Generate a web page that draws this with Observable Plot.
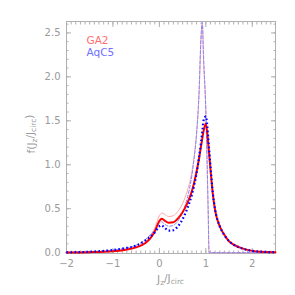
<!DOCTYPE html>
<html>
<head>
<meta charset="utf-8">
<script src="https://cdn.jsdelivr.net/npm/d3@7"></script>
<script src="https://cdn.jsdelivr.net/npm/@observablehq/plot@0.6"></script>
<style>
  html, body { margin: 0; padding: 0; background: #fff; }
  svg { display: block; }
</style>
</head>
<body>
<div id="chart"></div>
<script>
// J_z / J_circ grid
const jz = [-2, -1.5, -1, -0.75, -0.5, -0.3, -0.2, -0.1, 0, 0.05, 0.1, 0.2, 0.3, 0.4, 0.5, 0.6, 0.7, 0.75, 0.8, 0.85, 0.9, 0.925, 0.95, 1.0, 1.05, 1.07, 1.1, 1.15, 1.2, 1.3, 1.4, 1.5, 1.6, 1.8, 2.0, 2.2, 2.5];

// GA2 (thick red solid)
const ga2 = [0.002, 0.005, 0.015, 0.03, 0.06, 0.11, 0.16, 0.24, 0.36, 0.385, 0.37, 0.34, 0.345, 0.39, 0.46, 0.56, 0.7, 0.8, 0.92, 1.06, 1.22, 1.3, 1.38, 1.47, 1.25, 1.13, 0.95, 0.67, 0.48, 0.3, 0.2, 0.13, 0.09, 0.045, 0.02, 0.01, 0.005];
// AqC5 (thick blue dotted)
const aqc5 = [0.003, 0.01, 0.03, 0.05, 0.08, 0.14, 0.18, 0.23, 0.3, 0.31, 0.29, 0.25, 0.255, 0.3, 0.38, 0.5, 0.66, 0.77, 0.9, 1.07, 1.27, 1.38, 1.5, 1.55, 1.32, 1.18, 0.98, 0.68, 0.49, 0.3, 0.2, 0.13, 0.09, 0.045, 0.02, 0.01, 0.005];
// GA2 thin (light red solid)
const ga2Thin = [0.002, 0.006, 0.02, 0.035, 0.07, 0.13, 0.19, 0.28, 0.42, 0.45, 0.44, 0.41, 0.42, 0.47, 0.56, 0.7, 0.92, 1.1, 1.35, 1.75, 2.45, 2.6, 2.2, 1.6, 0.45, 0, 0, 0, 0, 0, 0, 0, 0, 0, 0, 0, 0];
// AqC5 thin (light blue dashed)
const aqc5Thin = [0.003, 0.01, 0.03, 0.05, 0.085, 0.15, 0.2, 0.26, 0.34, 0.35, 0.33, 0.3, 0.31, 0.36, 0.46, 0.62, 0.88, 1.08, 1.35, 1.78, 2.5, 2.62, 2.25, 1.62, 0.5, 0, 0, 0, 0, 0, 0, 0, 0, 0, 0, 0, 0];

const legendNames = ["GA2", "AqC5"];
const legendColors = ["#ff6f6f", "#7070ff"];

const xMinor = d3.range(-20, 26).map(i => i / 10);
const xMajor = [-2, -1, 0, 1, 2];
const yMinor = d3.range(0, 27).map(i => i / 10);
const yMajor = [0, 0.5, 1.0, 1.5, 2.0, 2.5];

const toRows = ys => jz.map((x, i) => ({x, y: ys[i]}));

const axisColor = "#b0b0b0";
const font = "DejaVu Sans, sans-serif";

const plot = Plot.plot({
  width: 295,
  height: 295,
  marginLeft: 66,
  marginRight: 20,
  marginTop: 21,
  marginBottom: 42,
  style: {fontFamily: font, fontSize: "10px", color: "#9a9a9a", background: "#fff"},
  x: {domain: [-2, 2.5], label: null},
  y: {domain: [-0.01, 2.63], label: null},
  marks: [
    Plot.frame({stroke: axisColor}),
    // minor ticks (inward) on all four sides
    Plot.axisX(xMinor, {anchor: "bottom", tickSize: -2.5, tickFormat: () => "", stroke: axisColor, label: null}),
    Plot.axisX(xMinor, {anchor: "top", tickSize: -2.5, tickFormat: () => "", stroke: axisColor, label: null}),
    Plot.axisY(yMinor, {anchor: "left", tickSize: -2.5, tickFormat: () => "", stroke: axisColor, label: null}),
    Plot.axisY(yMinor, {anchor: "right", tickSize: -2.5, tickFormat: () => "", stroke: axisColor, label: null}),
    // major ticks
    Plot.axisX(xMajor, {anchor: "bottom", tickSize: -5, tickFormat: () => "", stroke: axisColor, label: null}),
    Plot.axisX(xMajor, {anchor: "top", tickSize: -5, tickFormat: () => "", stroke: axisColor, label: null}),
    Plot.axisY(yMajor, {anchor: "left", tickSize: -5, tickFormat: () => "", stroke: axisColor, label: null}),
    Plot.axisY(yMajor, {anchor: "right", tickSize: -5, tickFormat: () => "", stroke: axisColor, label: null}),
    // tick labels
    Plot.axisX(xMajor, {anchor: "bottom", tickSize: 0, tickPadding: 6, tickFormat: d => d < 0 ? "\u2212" + Math.abs(d) : String(d), fill: "#9a9a9a", fontSize: 10, label: null}),
    Plot.axisY(yMajor, {anchor: "left", tickSize: 0, tickPadding: 6, tickFormat: d3.format(".1f"), fill: "#9a9a9a", fontSize: 10, label: null}),
    // curves
    Plot.line(toRows(ga2Thin), {x: "x", y: "y", stroke: "#ffaaaa", strokeWidth: 1, curve: "monotone-x"}),
    Plot.line(toRows(aqc5Thin), {x: "x", y: "y", stroke: "#8080ff", strokeWidth: 1, strokeDasharray: "3,2", curve: "monotone-x"}),
    Plot.line(toRows(ga2), {x: "x", y: "y", stroke: "#ff0000", strokeWidth: 2, curve: "monotone-x"}),
    Plot.line(toRows(aqc5), {x: "x", y: "y", stroke: "#0000ff", strokeWidth: 2.2, strokeDasharray: "1.6,2.4", strokeLinecap: "butt", curve: "monotone-x"}),
    // legend
    Plot.text([legendNames[0]], {frameAnchor: "top-left", text: d => d, fill: legendColors[0], dx: 20, dy: 19, fontSize: 10.5, textAnchor: "start", lineAnchor: "middle"}),
    Plot.text([legendNames[1]], {frameAnchor: "top-left", text: d => d, fill: legendColors[1], dx: 20, dy: 31, fontSize: 10.5, textAnchor: "start", lineAnchor: "middle"})
  ]
});

document.getElementById("chart").appendChild(plot);

const svg = d3.select(plot);

// axis titles with subscripts
const xs = plot.scale("x"), ys = plot.scale("y");
const cx = (xs.range[0] + xs.range[1]) / 2;
const cy = (ys.range[0] + ys.range[1]) / 2;

const xl = svg.append("text")
  .attr("x", cx).attr("y", 283)
  .attr("text-anchor", "middle")
  .attr("fill", "#9a9a9a").attr("font-size", 10.5).attr("font-family", font);
xl.append("tspan").text("J");
xl.append("tspan").text("z").attr("font-size", 7.5).attr("dy", "0.3em");
xl.append("tspan").text("/J").attr("dy", "-0.3em");
xl.append("tspan").text("circ").attr("font-size", 7.5).attr("dy", "0.3em");

const yl = svg.append("text")
  .attr("transform", `translate(35, ${cy - 3}) rotate(-90)`)
  .attr("text-anchor", "middle")
  .attr("fill", "#9a9a9a").attr("font-size", 10.5).attr("font-family", font);
yl.append("tspan").text("f(J");
yl.append("tspan").text("z").attr("font-size", 7.5).attr("dy", "0.3em");
yl.append("tspan").text("/J").attr("dy", "-0.3em");
yl.append("tspan").text("circ").attr("font-size", 7.5).attr("dy", "0.3em");
yl.append("tspan").text(")").attr("dy", "-0.3em");
</script>
</body>
</html>
